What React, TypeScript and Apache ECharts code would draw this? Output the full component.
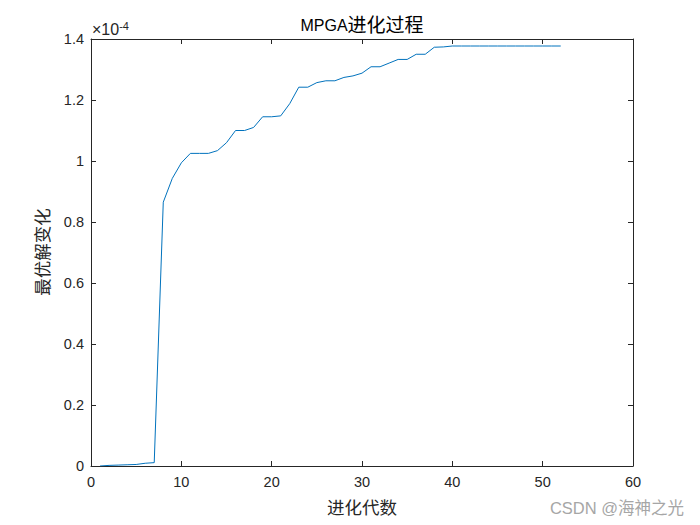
import React, { useEffect, useRef } from "react";
import * as echarts from "echarts";

// generation index 1..52
const generations: number[] = Array.from({ length: 52 }, (_, i) => i + 1);
// best fitness per generation, in units of 1e-4
const bestValues: number[] = [
  0, 0.002, 0.003, 0.004, 0.005, 0.009, 0.011, 0.865, 0.943, 0.994,
  1.025, 1.025, 1.025, 1.034, 1.06, 1.1, 1.1, 1.11, 1.145, 1.145,
  1.148, 1.188, 1.242, 1.242, 1.257, 1.263, 1.263, 1.274, 1.279, 1.288,
  1.309, 1.309, 1.321, 1.333, 1.333, 1.35, 1.35, 1.373, 1.374, 1.377,
  1.377, 1.377, 1.377, 1.377, 1.377, 1.377, 1.377, 1.377, 1.377, 1.377,
  1.377, 1.377,
];
const xTicks = { min: 0, max: 60, interval: 10 };
const yTicks = { min: 0, max: 1.4, interval: 0.2 };
const titleLatin = "MPGA";
const titleCJK = "进化过程";
const xName = "进化代数";
const yName = "最优解变化";
const watermark = "CSDN @海神之光";

const FONT = "'Liberation Sans', Arial, 'Noto Sans CJK SC', sans-serif";
const AX = "#262626";

export default function App() {
  const ref = useRef<HTMLDivElement>(null);
  useEffect(() => {
    if (!ref.current) return;
    const chart = echarts.init(ref.current, undefined, { renderer: "svg" });
    const data = generations.map((g, i) => [g, bestValues[i]]);
    const axisCommon = {
      axisLine: { show: true, onZero: false, lineStyle: { color: AX, width: 1 } },
      axisTick: { show: true, inside: true, length: 5, lineStyle: { color: AX } },
      splitLine: { show: false },
    };
    const fmtY = (v: number) => String(parseFloat(v.toFixed(1)));
    chart.setOption({
      animation: false,
      backgroundColor: "#ffffff",
      grid: { left: 91, right: 67, top: 39, bottom: 59, containLabel: false },
      xAxis: [
        {
          type: "value",
          ...xTicks,
          position: "bottom",
          ...axisCommon,
          axisLabel: { color: AX, fontFamily: FONT, fontSize: 14.5, margin: 9 },
        },
        {
          type: "value",
          ...xTicks,
          position: "top",
          ...axisCommon,
          axisLabel: { show: false },
        },
      ],
      yAxis: [
        {
          type: "value",
          ...yTicks,
          position: "left",
          ...axisCommon,
          axisLabel: { color: AX, fontFamily: FONT, fontSize: 14.5, margin: 7, formatter: fmtY },
        },
        {
          type: "value",
          ...yTicks,
          position: "right",
          ...axisCommon,
          axisLabel: { show: false },
        },
      ],
      series: [
        {
          type: "line",
          data,
          xAxisIndex: 0,
          yAxisIndex: 0,
          showSymbol: false,
          symbol: "none",
          lineStyle: { color: "#0072BD", width: 1 },
        },
      ],
      graphic: [
        {
          type: "text",
          x: 362,
          y: 25,
          style: {
            text: `{a|${titleLatin}}{b|${titleCJK}}`,
            align: "center",
            verticalAlign: "middle",
            rich: {
              a: { fontFamily: FONT, fontSize: 16, fill: "#000" },
              b: { fontFamily: FONT, fontSize: 19, fill: "#000" },
            },
          },
        },
        {
          type: "text",
          left: 92,
          top: 20,
          style: {
            text: "{a|×10}{b|-4}",
            rich: {
              a: { fontFamily: FONT, fontSize: 16, fill: AX, verticalAlign: "bottom", lineHeight: 18 },
              b: { fontFamily: FONT, fontSize: 11, fill: AX, verticalAlign: "top", lineHeight: 18, padding: [0, 0, 8, 0] },
            },
          },
        },
        {
          type: "text",
          x: 362,
          y: 508,
          style: {
            text: xName,
            fontFamily: FONT,
            fontSize: 17.5,
            fill: AX,
            align: "center",
            verticalAlign: "middle",
          },
        },
        {
          type: "text",
          x: 43,
          y: 252,
          rotation: Math.PI / 2,
          style: {
            text: yName,
            fontFamily: FONT,
            fontSize: 17.5,
            fill: AX,
            align: "center",
            verticalAlign: "middle",
          },
        },
        {
          type: "text",
          x: 684,
          y: 508,
          style: {
            text: watermark,
            fontFamily: FONT,
            fontSize: 16.5,
            fill: "#a6a6a6",
            align: "right",
            verticalAlign: "middle",
          },
        },
      ],
    });
    return () => chart.dispose();
  }, []);
  return <div ref={ref} style={{ width: 700, height: 525, position: "absolute", left: 0, top: 0 }} />;
}
